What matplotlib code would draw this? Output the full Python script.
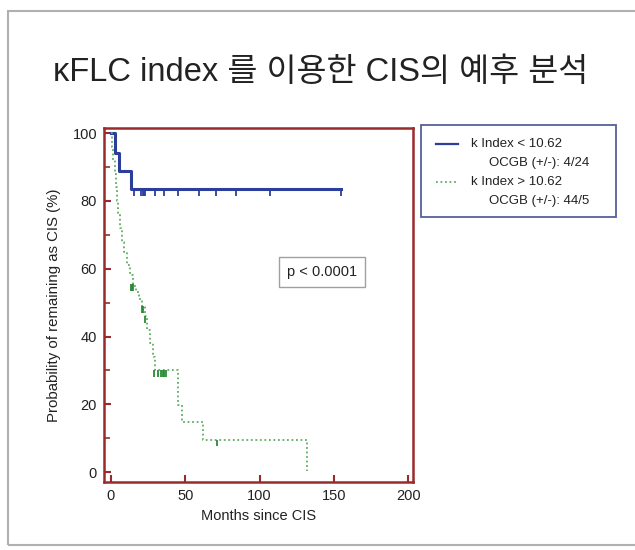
import matplotlib
matplotlib.use('Agg')
from matplotlib import pyplot as plt
from matplotlib.patches import Rectangle
from matplotlib.lines import Line2D
import numpy as np

plt.rcParams['font.family'] = ['Liberation Sans', 'DejaVu Sans']

TITLE = 'κFLC index 를 이용한 CIS의 예후 분석'
X_LABEL = 'Months since CIS'
Y_LABEL = 'Probability of remaining as CIS (%)'
P_TEXT = 'p < 0.0001'

# k Index < 10.62 (step curve, months / survival %)
low_t = [0, 2.7, 5.6, 13.2, 155]
low_s = [100, 94.1, 88.8, 83.4, 83.4]
low_cens_t = [15.7, 20, 21.3, 22.2, 23.1, 29.8, 35.7, 45.3, 59.4, 70.4, 83.9, 107.2, 155]
low_cens_s = [83.4] * 13

# k Index > 10.62
high_t = [0, 0.8, 1.6, 2.5, 3.2, 4, 5, 6, 7.5, 9, 11, 13, 15, 17, 19, 21, 23,
          24.5, 26, 28, 29.6, 44.8, 47.5, 62, 132]
high_s = [100, 96, 92, 88, 84, 80, 76, 72, 68, 65, 61, 58, 55, 53, 51, 49, 46,
          42, 38, 34, 30.1, 19.8, 14.8, 9.6, 0.4]
high_cens_t = [13.2, 14.2, 14.8, 20.6, 21.5, 22.9, 29.1, 31.4, 33.6, 34.7, 35.8, 37, 71]
high_cens_s = [55.5, 55.5, 55.5, 49, 49, 46, 30.1, 30.1, 30.1, 30.1, 30.1, 30.1, 9.6]

legend_main = ['k Index < 10.62', 'k Index > 10.62']
legend_sub = ['OCGB (+/-): 4/24', 'OCGB (+/-): 44/5']

blue = '#2c3e9c'
green_line = '#5fae62'
green_mark = '#2a8a35'
frame_red = '#9a2b2b'

fig = plt.figure(figsize=[6.35, 5.5], dpi=100)

# outer gray frame
fig.patches.append(Rectangle((8 / 635, 5 / 550), 640 / 635, 534 / 550, transform=fig.transFigure,
                             fill=False, edgecolor='#b0b0b0', linewidth=1.5))

fig.text(321 / 635, 1 - 73 / 550, TITLE, ha='center', va='center', fontsize=23.5,
         family=['Liberation Sans', 'Noto Sans CJK KR'], color='#222222')

ax = fig.add_axes([104 / 635, 1 - 482 / 550, 309 / 635, 354 / 550])

ax.step(low_t, low_s, where='post', color=blue, linewidth=2.2)
ax.vlines(low_cens_t, np.array(low_cens_s) - 2, low_cens_s, color=blue, linewidth=1.3)

ax.step(high_t, high_s, where='post', color=green_line, linewidth=1.3, linestyle=(0, (1, 1.5)))
ax.vlines(high_cens_t, np.array(high_cens_s) - 2, high_cens_s, color=green_mark, linewidth=1.3)

ax.set_xlim(-4.7, 203.2)
ax.set_ylim(-2.9, 101.5)
ax.set_xticks([0, 50, 100, 150, 200])
ax.set_yticks([0, 20, 40, 60, 80, 100])
ax.set_yticks([10, 30, 50, 70, 90], minor=True)
ax.tick_params(direction='in', color=frame_red, width=1.5, length=5, labelsize=10.5,
               labelcolor='#222222', pad=5)
ax.tick_params(which='minor', direction='in', color=frame_red, width=1.2, length=4)
for sp in ax.spines.values():
    sp.set_color(frame_red)
    sp.set_linewidth(1.8)

ax.set_xlabel(X_LABEL, fontsize=10.5, color='#222222', labelpad=4)
ax.set_ylabel(Y_LABEL, fontsize=10.8, color='#222222', labelpad=8)

ax.text(142, 59, P_TEXT, ha='center', va='center', fontsize=10.5, color='#222222',
        bbox=dict(boxstyle='square,pad=0.55', facecolor='white', edgecolor='#a0a0a0', linewidth=1))

# legend drawn by hand
fig.patches.append(Rectangle((421 / 635, 1 - 217 / 550), 195 / 635, 92 / 550, transform=fig.transFigure,
                             fill=False, edgecolor='#55609a', linewidth=1.3))
styles = [dict(color=blue, linewidth=1.6, linestyle='-'),
          dict(color=green_line, linewidth=1.3, linestyle=(0, (1, 1.5)))]
for i in range(2):
    y1 = 1 - (144 + 38 * i) / 550
    y2 = 1 - (163 + 38 * i) / 550
    fig.lines.append(Line2D([436 / 635, 458 / 635], [y1, y1], transform=fig.transFigure, **styles[i]))
    fig.text(471 / 635, y1, legend_main[i], ha='left', va='center', fontsize=9.5, color='#222222')
    fig.text(489 / 635, y2, legend_sub[i], ha='left', va='center', fontsize=9.5, color='#222222')

plt.savefig('out.png', dpi=100)
